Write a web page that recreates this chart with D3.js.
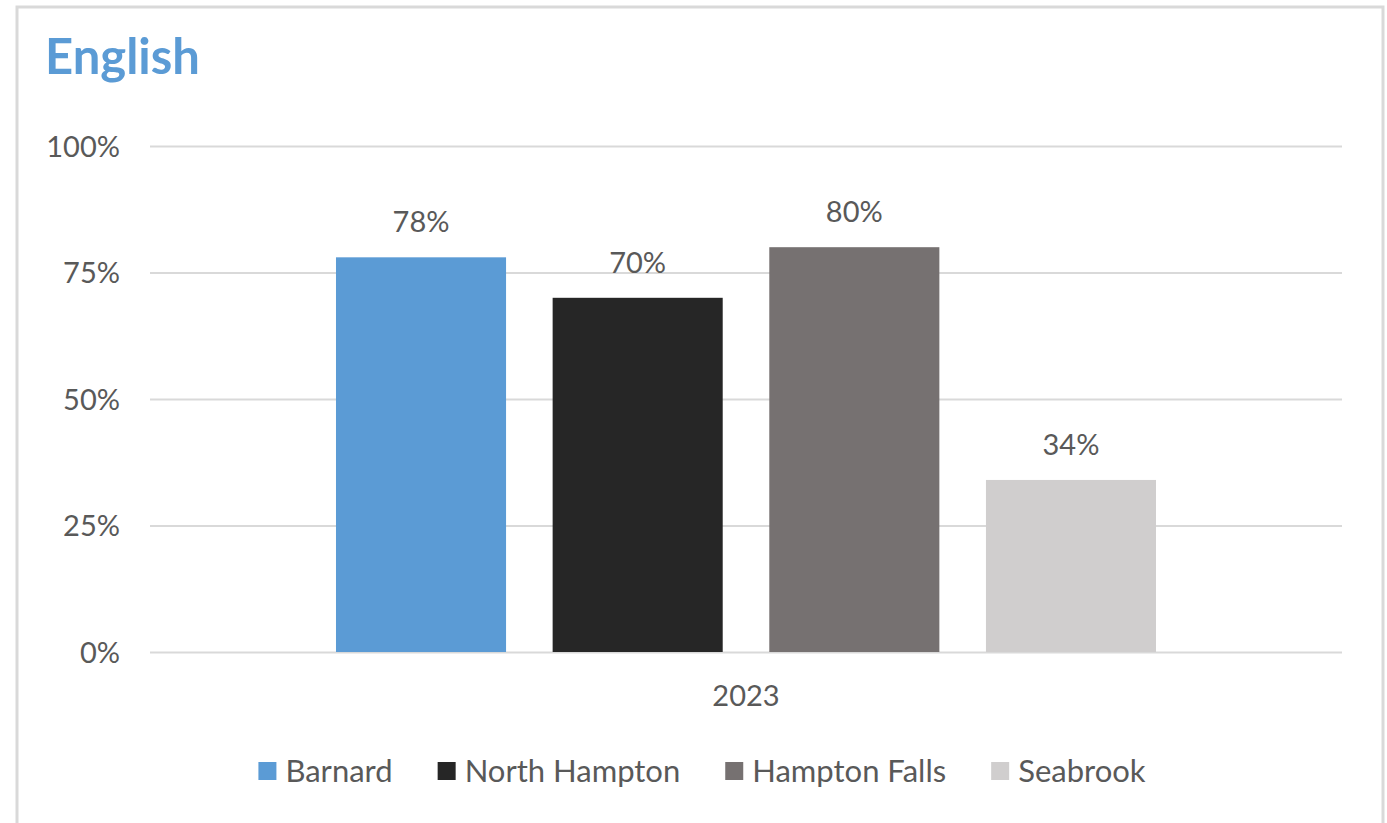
<!DOCTYPE html>
<html>
<head>
<meta charset="utf-8">
<script src="https://cdn.jsdelivr.net/npm/d3@7"></script>
<style>
  html, body { margin: 0; padding: 0; background: #ffffff; }
  svg { display: block; }
  text { font-family: Lato, "Open Sans", sans-serif; }
</style>
</head>
<body>
<svg id="chart" width="1387" height="823"></svg>
<script>
const title = "English";
const categories = ["2023"];
const seriesNames = ["Barnard", "North Hampton", "Hampton Falls", "Seabrook"];
const seriesValues = [0.78, 0.70, 0.80, 0.34];
const seriesColors = ["#5b9bd5", "#262626", "#767171", "#d0cece"];
const yTicks = [0, 0.25, 0.5, 0.75, 1];

const svg = d3.select("#chart");
const textColor = "#595959";
const fontSize = 29;
const legendFontSize = 31;

// frame
svg.append("rect")
  .attr("x", 17).attr("y", 7)
  .attr("width", 1366).attr("height", 830)
  .attr("fill", "#ffffff")
  .attr("stroke", "#d9d9d9").attr("stroke-width", 3);

// title
svg.append("text")
  .attr("x", 45).attr("y", 74)
  .attr("fill", "#5b9bd5")
  .attr("font-weight", "bold")
  .attr("font-size", 49)
  .text(title);

const plot = { left: 150, right: 1342, top: 146, bottom: 652 };

const y = d3.scaleLinear().domain([0, 1]).range([plot.bottom, plot.top]);

const x0 = d3.scaleBand()
  .domain(categories)
  .range([plot.left, plot.right])
  .paddingInner(0)
  .paddingOuter(0.2268);

const x1 = d3.scaleBand()
  .domain(seriesNames)
  .range([0, x0.bandwidth()])
  .paddingInner(0.215)
  .paddingOuter(0);

// gridlines
const yAxis = d3.axisLeft(y)
  .tickValues(yTicks)
  .tickFormat(d3.format(".0%"))
  .tickSize(-(plot.right - plot.left))
  .tickPadding(30);

const gAxis = svg.append("g")
  .attr("transform", `translate(${plot.left},0)`)
  .call(yAxis);
gAxis.select(".domain").remove();
gAxis.selectAll(".tick line")
  .attr("stroke", "#d9d9d9").attr("stroke-width", 2);
gAxis.selectAll(".tick text")
  .attr("fill", textColor)
  .attr("font-size", fontSize)
  .attr("font-family", "Lato, sans-serif")
  .attr("dy", "0.36em");

// bars
const data = seriesNames.map((s, i) => ({ series: s, value: seriesValues[i], color: seriesColors[i] }));

const gBars = svg.append("g");
categories.forEach(cat => {
  const g = gBars.append("g").attr("transform", `translate(${x0(cat)},0)`);
  g.selectAll("rect")
    .data(data)
    .join("rect")
    .attr("x", d => x1(d.series))
    .attr("y", d => y(d.value))
    .attr("width", x1.bandwidth())
    .attr("height", d => y(0) - y(d.value))
    .attr("fill", d => d.color);
  g.selectAll("text.lbl")
    .data(data)
    .join("text")
    .attr("class", "lbl")
    .attr("x", d => x1(d.series) + x1.bandwidth() / 2)
    .attr("y", d => y(d.value) - 25)
    .attr("text-anchor", "middle")
    .attr("fill", textColor)
    .attr("font-size", fontSize)
    .text(d => d3.format(".0%")(d.value));
});

// category label
svg.selectAll("text.cat")
  .data(categories)
  .join("text")
  .attr("class", "cat")
  .attr("x", d => x0(d) + x0.bandwidth() / 2)
  .attr("y", 706)
  .attr("text-anchor", "middle")
  .attr("fill", textColor)
  .attr("font-size", fontSize)
  .text(d => d);

// legend
const legend = svg.append("g");
const items = legend.selectAll("g")
  .data(data)
  .join("g");
items.append("rect")
  .attr("width", 18).attr("height", 18)
  .attr("y", 762)
  .attr("fill", d => d.color);
items.append("text")
  .attr("y", 782)
  .attr("fill", textColor)
  .attr("font-size", legendFontSize)
  .text(d => d.series);

let cx = 0;
const pos = [];
items.each(function () {
  const w = d3.select(this).select("text").node().getComputedTextLength();
  pos.push(cx);
  cx += 18 + 9 + w + 45;
});
const total = cx - 45;
const startX = 702 - total / 2;
items.each(function (d, i) {
  const g = d3.select(this);
  g.select("rect").attr("x", startX + pos[i]);
  g.select("text").attr("x", startX + pos[i] + 27);
});
</script>
</body>
</html>
